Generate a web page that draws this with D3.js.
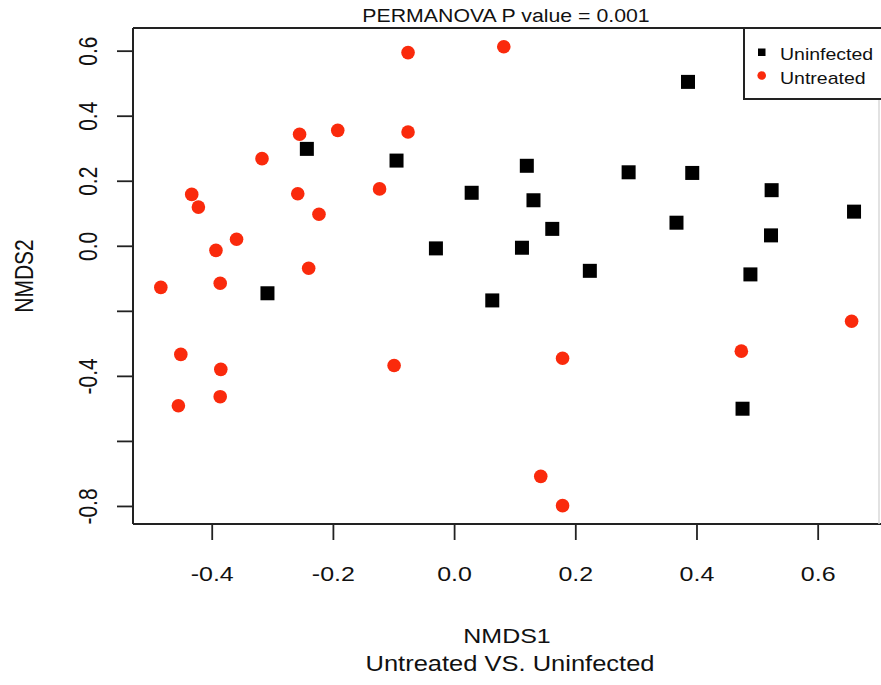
<!DOCTYPE html>
<html>
<head>
<meta charset="utf-8">
<script src="https://cdn.jsdelivr.net/npm/d3@7"></script>
<style>
  body { margin: 0; background: #fff; }
  text { font-family: Arial, "Liberation Sans", Helvetica, sans-serif; fill: #111; }
</style>
</head>
<body>
<div id="chart"></div>
<script>
// NMDS coordinates
var uninfectedX = [-0.308, -0.243, -0.095, -0.030, 0.029, 0.063, 0.112, 0.120, 0.131, 0.162,
                   0.224, 0.288, 0.367, 0.386, 0.393, 0.476, 0.489, 0.523, 0.524, 0.660];
var uninfectedY = [-0.146, 0.298, 0.262, -0.008, 0.163, -0.168, -0.006, 0.246, 0.140, 0.052,
                   -0.077, 0.226, 0.071, 0.504, 0.224, -0.501, -0.088, 0.032, 0.171, 0.105];

var untreatedX = [-0.484, -0.451, -0.455, -0.433, -0.422, -0.393, -0.386, -0.385, -0.386, -0.359,
                  -0.317, -0.258, -0.255, -0.240, -0.223, -0.192, -0.123, -0.099, -0.076, -0.076,
                  0.082, 0.143, 0.179, 0.179, 0.474, 0.656];
var untreatedY = [-0.128, -0.334, -0.492, 0.158, 0.119, -0.014, -0.115, -0.380, -0.464, 0.020,
                  0.268, 0.160, 0.343, -0.069, 0.097, 0.355, 0.175, -0.368, 0.594, 0.350,
                  0.612, -0.709, -0.346, -0.799, -0.324, -0.232];

var xTicks = [-0.4, -0.2, 0.0, 0.2, 0.4, 0.6];
var xTickLabels = ["-0.4", "-0.2", "0.0", "0.2", "0.4", "0.6"];
var yTicks = [-0.8, -0.6, -0.4, -0.2, 0.0, 0.2, 0.4, 0.6];
var yTickLabels = ["-0.8", "", "-0.4", "", "0.0", "0.2", "0.4", "0.6"];

var groups = ["Uninfected", "Untreated"];
var titleText = "PERMANOVA P value = 0.001";
var xTitle = "NMDS1";
var xSubTitle = "Untreated VS. Uninfected";
var yTitle = "NMDS2";

// LAYOUT
var width = 881;
var height = 685;
var plot = {left: 133, right: 879, top: 28, bottom: 524};
var squeeze = 0.84;   // text in the figure is slightly flattened
var red = "#fa2a0c";

var svg = d3.select("#chart")
            .append("svg")
            .attr("width", width)
            .attr("height", height);

var x = d3.scaleLinear().domain([-0.5299, 0.7012]).range([plot.left, plot.right]);
var y = d3.scaleLinear().domain([0.6697, -0.8555]).range([plot.top, plot.bottom]);

function label(parent, px, py, str, size, anchor, rotate) {
    return parent.append("text")
        .attr("transform", "translate(" + px + "," + py + ") scale(1," + squeeze + ")" + (rotate ? " rotate(-90)" : ""))
        .attr("text-anchor", anchor)
        .style("font-size", size + "px")
        .text(str);
}

// axes
var xAxis = svg.append("g")
    .attr("transform", "translate(0," + plot.bottom + ")")
    .call(d3.axisBottom(x).tickValues(xTicks).tickSize(16)
        .tickFormat(function(d, i) { return xTickLabels[i]; }));

var yAxis = svg.append("g")
    .attr("transform", "translate(" + plot.left + ",0)")
    .call(d3.axisLeft(y).tickValues(yTicks).tickSize(16)
        .tickFormat(function(d, i) { return yTickLabels[i]; }));

[xAxis, yAxis].forEach(function(a) {
    a.select(".domain").remove();
    a.selectAll(".tick line").attr("stroke", "#222").attr("stroke-width", 1.8);
    a.selectAll(".tick text").attr("fill", "#111").style("font-size", "25px")
        .style("font-family", "Arial, 'Liberation Sans', sans-serif");
});

xAxis.selectAll(".tick text")
    .attr("y", 0).attr("dy", 0)
    .attr("text-anchor", "middle")
    .attr("transform", "translate(0,57) scale(1," + squeeze + ")");

yAxis.selectAll(".tick text")
    .attr("x", 0).attr("dy", 0)
    .attr("text-anchor", "middle")
    .attr("transform", "translate(-36,0) scale(1," + squeeze + ") rotate(-90)");

// frame (right edge is cut off in the figure, only a faint line)
svg.append("line").attr("x1", plot.left).attr("x2", plot.left).attr("y1", plot.top).attr("y2", plot.bottom)
    .attr("stroke", "#222").attr("stroke-width", 2);
svg.append("line").attr("x1", plot.left).attr("x2", width).attr("y1", plot.bottom).attr("y2", plot.bottom)
    .attr("stroke", "#222").attr("stroke-width", 2);
svg.append("line").attr("x1", plot.left).attr("x2", width).attr("y1", plot.top).attr("y2", plot.top)
    .attr("stroke", "#222").attr("stroke-width", 2);
svg.append("line").attr("x1", plot.right).attr("x2", plot.right).attr("y1", 99).attr("y2", plot.bottom)
    .attr("stroke", "#d8d8d8").attr("stroke-width", 1.5);

// points
var sq = 14;
svg.selectAll(".uninfected")
    .data(uninfectedX)
    .enter()
    .append("rect")
    .attr("class", "uninfected")
    .attr("x", function(d) { return x(d) - sq / 2; })
    .attr("y", function(d, i) { return y(uninfectedY[i]) - sq / 2; })
    .attr("width", sq)
    .attr("height", sq)
    .attr("fill", "#000");

svg.selectAll(".untreated")
    .data(untreatedX)
    .enter()
    .append("circle")
    .attr("class", "untreated")
    .attr("cx", function(d) { return x(d); })
    .attr("cy", function(d, i) { return y(untreatedY[i]); })
    .attr("r", 6.8)
    .attr("fill", red);

// legend (box runs off the right edge like in the figure)
var legend = svg.append("g");
legend.append("rect")
    .attr("x", 744).attr("y", plot.top)
    .attr("width", width + 10 - 744).attr("height", 71)
    .attr("fill", "#fff").attr("stroke", "#222").attr("stroke-width", 2);
legend.append("rect")
    .attr("x", 758).attr("y", 48.5).attr("width", 7.5).attr("height", 7.5).attr("fill", "#000");
legend.append("circle")
    .attr("cx", 761.7).attr("cy", 75.5).attr("r", 4.3).attr("fill", red);
label(legend, 780, 59.5, groups[0], 19.5, "start", false);
label(legend, 780, 83.5, groups[1], 19.5, "start", false);

// titles
label(svg, 506, 22, titleText, 21.3, "middle", false);
label(svg, 507, 643, xTitle, 25, "middle", false);
label(svg, 510, 671, xSubTitle, 25.5, "middle", false);
label(svg, 33, 276, yTitle, 25, "middle", true);
</script>
</body>
</html>
